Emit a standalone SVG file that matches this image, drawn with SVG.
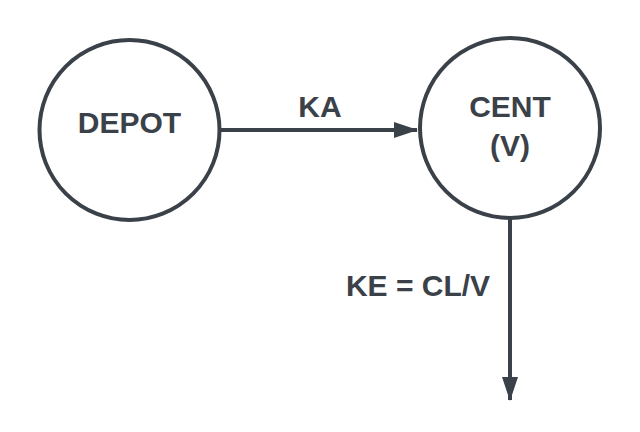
<svg xmlns="http://www.w3.org/2000/svg" width="640" height="432" viewBox="0 0 640 432">
<style>
.node{fill:#ffffff;stroke:#3b4149;stroke-width:4}
.lbl{font-family:"Liberation Sans",Arial,sans-serif;font-weight:bold;font-size:30px;fill:#3b4149;text-anchor:middle}
.edge{stroke:#3b4149;stroke-width:4;fill:none}
</style>
<defs>
<marker id="arr" markerUnits="userSpaceOnUse" markerWidth="24" markerHeight="16" refX="23" refY="8" orient="auto">
<path d="M0,0 L24,8 L0,16 Z" fill="#3b4149"/>
</marker>
</defs>
<rect width="640" height="432" fill="#ffffff"/>
<g id="connectors">
<line class="edge" x1="221" y1="130" x2="417" y2="130" marker-end="url(#arr)"/>
<line class="edge" x1="510" y1="218" x2="510" y2="400" marker-end="url(#arr)"/>
<text class="lbl" x="320" y="117">KA</text>
<text class="lbl" x="418" y="296">KE = CL/V</text>
</g>
<g id="depot">
<circle class="node" cx="129.5" cy="130" r="90"/>
<text class="lbl" x="129.5" y="133">DEPOT</text>
</g>
<g id="cent">
<circle class="node" cx="510" cy="128" r="90"/>
<text class="lbl" x="510" y="117">CENT</text>
<text class="lbl" x="510" y="156">(V)</text>
</g>
</svg>
